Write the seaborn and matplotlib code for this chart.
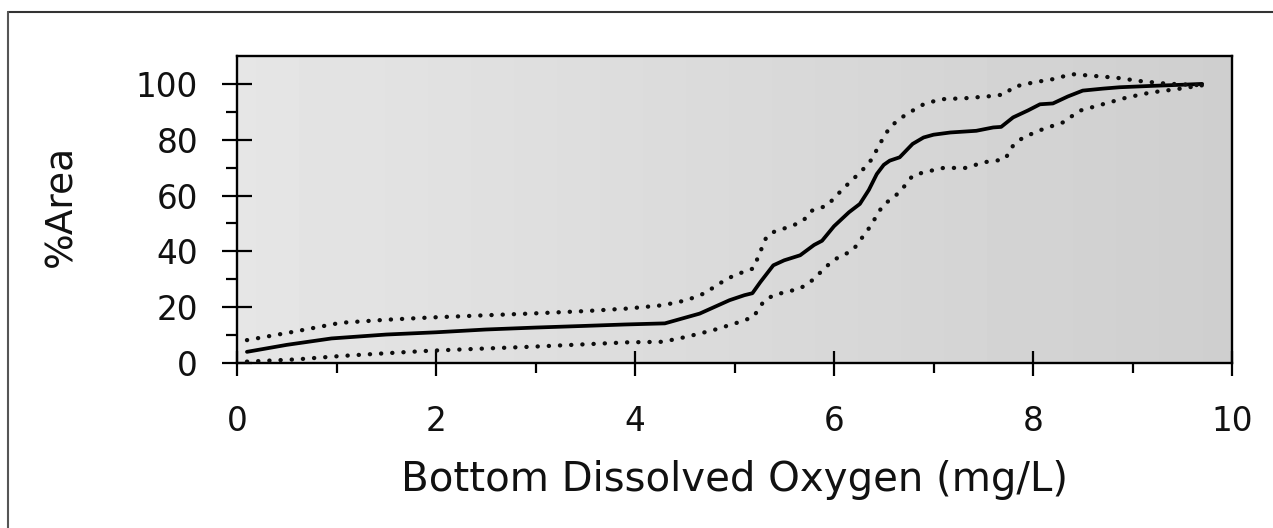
import numpy as np
import pandas as pd
import matplotlib
matplotlib.use("Agg")
import matplotlib.pyplot as plt
from matplotlib.lines import Line2D
from matplotlib.ticker import FixedLocator
import seaborn as sns

# ---- data ----
solid_x = [0.1, 0.5, 0.95, 1.5, 2.0, 2.5, 3.0, 3.5, 3.9, 4.3, 4.65, 4.95, 5.1, 5.18,
           5.26, 5.39, 5.5, 5.66, 5.8, 5.88, 6.0, 6.06, 6.15, 6.26, 6.35, 6.43, 6.5,
           6.56, 6.66, 6.79, 6.9, 7.0, 7.17, 7.43, 7.6, 7.68, 7.8, 7.95, 8.07, 8.2,
           8.35, 8.5, 8.7, 8.87, 9.2, 9.5, 9.7]
solid_y = [4.0, 6.5, 8.8, 10.2, 11.0, 12.0, 12.7, 13.3, 13.8, 14.2, 17.7, 22.5, 24.3, 25.0,
           29.0, 35.0, 36.8, 38.6, 42.3, 43.8, 49.0, 51.0, 54.0, 57.0, 62.0, 67.7, 71.0,
           72.5, 73.7, 78.5, 80.8, 81.8, 82.6, 83.2, 84.4, 84.6, 88.0, 90.5, 92.7, 93.0,
           95.5, 97.6, 98.3, 98.8, 99.3, 99.7, 100.0]

upper_x = [0.1, 0.57, 1.04, 1.5, 1.94, 2.5, 2.94, 3.5, 3.92, 4.28, 4.52, 4.7, 4.85, 5.0,
           5.09, 5.19, 5.32, 5.39, 5.59, 5.69, 5.78, 5.93, 6.09, 6.28, 6.38, 6.46, 6.56,
           6.66, 6.76, 6.9, 7.07, 7.33, 7.6, 7.72, 7.8, 8.0, 8.2, 8.39, 8.6, 8.84, 9.08,
           9.34, 9.7]
upper_y = [8.2, 11.2, 14.4, 15.5, 16.3, 17.1, 17.7, 18.6, 19.5, 20.7, 22.5, 25.0, 28.5, 31.5,
           32.6, 33.9, 45.1, 46.9, 49.3, 51.0, 54.6, 56.4, 62.4, 68.9, 73.0, 78.5, 84.4,
           87.5, 89.8, 92.7, 94.5, 94.9, 95.7, 96.3, 98.9, 100.5, 101.7, 103.5, 102.9, 102.2, 101.0,
           100.1, 99.5]

lower_x = [0.1, 0.6, 1.04, 1.5, 1.94, 2.5, 2.94, 3.5, 3.92, 4.28, 4.52, 4.79, 5.06, 5.19,
           5.29, 5.39, 5.66, 5.78, 5.99, 6.19, 6.36, 6.49, 6.66, 6.79, 6.9, 7.1, 7.33,
           7.5, 7.63, 7.72, 7.8, 7.9, 8.1, 8.3, 8.47, 8.7, 8.94, 9.18, 9.44, 9.7]
lower_y = [0.5, 1.3, 2.5, 3.5, 4.4, 5.2, 5.8, 6.7, 7.4, 7.6, 9.4, 11.8, 14.8, 16.5,
           21.9, 24.3, 26.7, 29.6, 36.8, 40.4, 48.7, 56.4, 61.2, 67.1, 68.3, 69.9, 69.9,
           71.9, 72.5, 73.1, 77.9, 80.8, 83.8, 86.2, 90.4, 92.7, 95.1, 96.9, 98.1, 99.5]

x_ticks = [0, 2, 4, 6, 8, 10]
y_ticks = [0, 20, 40, 60, 80, 100]
x_label = "Bottom Dissolved Oxygen (mg/L)"
y_label = "%Area"

# ---- style ----
sns.set_theme(style="ticks")
plt.rcParams["font.family"] = ["DejaVu Sans"]

W, H = 1273, 528
fig = plt.figure(figsize=(W / 100, H / 100), dpi=100)
fig.patch.set_facecolor("white")

ax_l, ax_r, ax_t, ax_b = 237, 1232, 56, 363
ax = fig.add_axes([ax_l / W, 1 - ax_b / H, (ax_r - ax_l) / W, (ax_b - ax_t) / H])

# gray gradient plot background (lighter on left, darker on right)
grad = np.linspace(0.90, 0.81, 256).reshape(1, -1)
ax.imshow(grad, cmap="gray", vmin=0, vmax=1, aspect="auto",
          extent=[0, 1, 0, 1], transform=ax.transAxes, zorder=0, interpolation="bilinear")

df_s = pd.DataFrame({"x": solid_x, "y": solid_y})
df_u = pd.DataFrame({"x": upper_x, "y": upper_y})
df_l = pd.DataFrame({"x": lower_x, "y": lower_y})

sns.lineplot(data=df_s, x="x", y="y", ax=ax, color="black", linewidth=2.7,
             sort=False, estimator=None, zorder=3)
for d in (df_u, df_l):
    sns.lineplot(data=d, x="x", y="y", ax=ax, color="#0d0d0d", linewidth=3.1,
                 linestyle=(0, (0.05, 2.55)), dash_capstyle="round",
                 sort=False, estimator=None, zorder=3)

ax.set_xlim(0, 10)
ax.set_ylim(0, 110)

ax.set_xticks(x_ticks)
ax.set_xticklabels([str(t) for t in x_ticks])
ax.xaxis.set_minor_locator(FixedLocator([1, 3, 5, 7, 9]))
ax.set_yticks(y_ticks)
ax.set_yticklabels([str(t) for t in y_ticks])
ax.yaxis.set_minor_locator(FixedLocator([10, 30, 50, 70, 90]))

ax.tick_params(axis="x", which="major", direction="inout", length=18, width=1.6,
               color="black", labelsize=23.5, pad=21, labelcolor="#111111")
ax.tick_params(axis="x", which="minor", direction="out", length=7, width=1.6, color="black")
ax.tick_params(axis="y", which="major", direction="inout", length=22, width=1.6,
               color="black", labelsize=23.5, pad=17, labelcolor="#111111")
ax.tick_params(axis="y", which="minor", direction="out", length=8, width=1.6, color="black")

for s in ax.spines.values():
    s.set_visible(True)
    s.set_color("black")
    s.set_linewidth(1.7)

ax.set_xlabel(x_label, fontsize=29, color="#111111")
ax.xaxis.set_label_coords(0.5, -0.315)
ax.set_ylabel(y_label, fontsize=27, color="#111111")
ax.yaxis.set_label_coords(-0.158, 0.51)

# outer frame (top and left edges visible in the reference)
fig.add_artist(Line2D([8 / W, 1.0], [1 - 12 / H, 1 - 12 / H], transform=fig.transFigure,
                      color="#333333", linewidth=1.5))
fig.add_artist(Line2D([8 / W, 8 / W], [0.0, 1 - 12 / H], transform=fig.transFigure,
                      color="#555555", linewidth=1.5))

fig.savefig("out.png", dpi=100)
